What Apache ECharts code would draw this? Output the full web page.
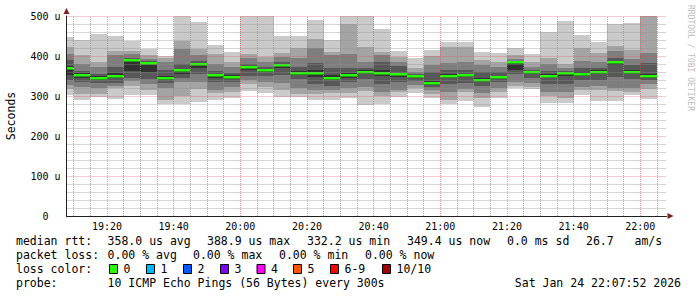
<!DOCTYPE html>
<html>
<head>
<meta charset="utf-8">
<script src="https://cdn.jsdelivr.net/npm/echarts@6/dist/echarts.min.js"></script>
<style>
html,body{margin:0;padding:0;background:#fff;}
#chart{width:697px;height:297px;}
</style>
</head>
<body>
<div id="chart"></div>
<script>
// ---------------- data ----------------
const START = '19:07:52';
const END = '22:07:52';
const STEP_MIN = 5;
const BAR_START = ['19:05','19:10','19:15','19:20','19:25','19:30','19:35','19:40','19:45','19:50','19:55',
  '20:00','20:05','20:10','20:15','20:20','20:25','20:30','20:35','20:40','20:45','20:50','20:55',
  '21:00','21:05','21:10','21:15','21:20','21:25','21:30','21:35','21:40','21:45','21:50','21:55','22:00'];
// sorted ping rtt values (microseconds), ping1 = fastest ... ping10 = slowest
const PING1  = [303,290,298,292,302,302,280,280,286,290,296,312,307,298,298,290,290,296,277,279,298,307,296,279,288,273,294,319,317,282,282,302,287,287,302,292];
const PING2  = [317,304,304,321,325,315,290,300,317,307,309,330,323,315,304,305,307,307,312,300,309,319,305,290,310,294,309,326,323,300,295,315,315,312,309,318];
const PING3  = [328,323,319,325,337,330,321,335,336,315,322,340,335,332,321,315,315,319,323,310,315,327,315,311,318,307,320,335,333,309,310,323,325,320,319,330];
const PING4  = [340,336,333,333,345,342,332,345,355,335,335,350,350,352,342,330,325,335,342,330,335,337,322,330,332,326,335,355,345,330,330,340,340,348,342,340];
const PING5  = [352,346,341,345,363,360,340,355,370,345,343,365,360,370,352,348,340,345,354,350,348,345,328,345,348,334,343,365,354,344,350,350,356,377,354,346];
const PING6  = [376,357,350,358,392,385,350,368,382,356,352,375,368,381,362,365,352,357,364,365,358,352,338,355,356,345,350,387,362,354,360,360,364,387,364,355];
const PING7  = [390,362,355,373,395,387,365,380,388,362,358,380,372,385,372,382,370,370,370,385,375,355,360,365,365,360,360,388,365,362,362,370,370,395,377,382];
const PING8  = [406,381,373,402,405,393,384,417,402,380,373,394,385,398,394,421,402,405,386,402,386,361,377,382,384,377,373,392,372,380,369,387,386,412,392,408];
const PING9  = [422,402,386,412,413,402,394,437,418,405,385,406,397,408,419,442,411,480,423,409,398,370,401,422,423,390,385,402,385,396,380,421,407,425,415,510];
const PING10 = [448,440,455,450,438,417,401,510,486,427,411,510,510,450,450,490,440,510,510,468,412,394,415,436,436,411,407,421,404,461,488,453,434,480,482,510];
const MEDIAN = [370,353,346,351,389,383,346,365,379,352,348,372,365,378,357,358,346,352,361,357,354,349,332,351,352,340,347,384,359,350,357,355,360,384,361,349];
const Y_TICKS = [0,100,200,300,400,500];
const X_TICKS = ['19:20','19:40','20:00','20:20','20:40','21:00','21:20','21:40','22:00'];

const STATS_RTT = ['median rtt:','358.0 us avg','388.9 us max','332.2 us min','349.4 us now','0.0 ms sd','26.7   am/s'];
const STATS_LOSS = ['packet loss:','0.00 % avg','0.00 % max','0.00 % min','0.00 % now'];
const LOSS_LABELS = ['0','1','2','3','4','5','6-9','10/10'];
const PROBE_TEXT = ['probe:','10 ICMP Echo Pings (56 Bytes) every 300s','Sat Jan 24 22:07:52 2026'];

// ---------------- styles / layout ----------------
const LOSS_COLORS = ['#26ff00','#00b8ff','#0059ff','#7e00ff','#ff00ff','#ff5500','#ff0000','#a00000'];
const SMOKE = ['#cacaca','#a4a4a4','#7e7e7e','#585858','#323232'];
const MONO = 'DejaVu Sans Mono';
const GRID_MINOR = 'rgba(143,143,143,0.75)';
const GRID_MAJOR = 'rgba(222,79,79,0.6)';
const ARROW = '#801f1f';
const AXIS = '#1f1f1f';

function toMin(s){ const p = s.split(':').map(Number); return p[0]*60 + p[1] + (p[2]||0)/60; }
function fmtMin(v){ const h = Math.floor(v/60 + 1e-9), m = Math.round(v - h*60); return String(h).padStart(2,'0') + ':' + String(m).padStart(2,'0'); }

const T0 = toMin(START), T1 = toMin(END);
const smokeData = BAR_START.map((t,i) => {
  const s = toMin(t);
  return [s, s+STEP_MIN, PING1[i],PING2[i],PING3[i],PING4[i],PING5[i],PING6[i],PING7[i],PING8[i],PING9[i],PING10[i],MEDIAN[i]];
});

const majorX = X_TICKS.map(toMin);
const minorX = [];
for (let v = Math.ceil(T0/STEP_MIN)*STEP_MIN; v <= T1; v += STEP_MIN) {
  if (!majorX.some(m => Math.abs(m - v) < 1e-6)) minorX.push(v);
}

function renderItem(params, api) {
  const cs = params.coordSys;
  const clipBox = {x: cs.x, y: cs.y, width: cs.width, height: cs.height};
  const x0 = api.value(0), x1 = api.value(1);
  const children = [];
  function addRect(xa, ya, xb, yb, color) {
    const L = Math.round(xa), R = Math.round(xb), T = Math.round(ya), B = Math.round(yb);
    const r = echarts.graphic.clipRectByRect({x: L, y: T, width: R - L, height: B - T}, clipBox);
    if (r) children.push({type: 'rect', shape: r, style: {fill: color}});
  }
  for (let k = 0; k < 5; k++) {
    const lo = api.value(2 + k), hi = api.value(11 - k);
    const a = api.coord([x0, hi]), b = api.coord([x1, lo]);
    addRect(a[0], a[1], b[0], b[1], SMOKE[k]);
  }
  const m0 = api.coord([x0, api.value(12)]), m1 = api.coord([x1, api.value(12)]);
  const L = Math.round(m0[0]), R = Math.round(m1[0]);
  const r = echarts.graphic.clipRectByRect({x: L, y: Math.round(m0[1]) - 1, width: R - L, height: 2.5}, clipBox);
  if (r) children.push({type: 'rect', shape: r, style: {fill: LOSS_COLORS[0]}});
  return {type: 'group', children};
}

// legend graphics
const textStyle = {fontFamily: MONO, fontSize: 11.5, fill: '#000'};
const graphics = [];
function addText(str, x, y, align) {
  graphics.push({type: 'text', x: x, y: y, style: Object.assign({text: str, textAlign: align || 'left', textVerticalAlign: 'middle'}, textStyle)});
}
const rttX = [16, 107.6, 207, 307, 407, 507, 586];
STATS_RTT.forEach((s, i) => addText(s, rttX[i], 241));
const lossX = [16, 107.6, 193, 279, 365];
STATS_LOSS.forEach((s, i) => addText(s, lossX[i], 255));
addText('loss color:', 16, 269);
const boxX = [109, 146, 183, 220, 256.5, 293, 330, 382];
LOSS_LABELS.forEach((s, i) => {
  graphics.push({type: 'rect', shape: {x: boxX[i] + 0.5, y: 264.5, width: 8, height: 9},
    style: {fill: LOSS_COLORS[i], stroke: '#000', lineWidth: 1}});
  addText(s, boxX[i] + 14.5, 269);
});
addText(PROBE_TEXT[0], 16, 283);
addText(PROBE_TEXT[1], 107.6, 283);
addText(PROBE_TEXT[2], 681, 283, 'right');
graphics.push({type: 'text', x: 690, y: 5, rotation: -Math.PI/2,
  style: {text: 'RRDTOOL / TOBI OETIKER', fontFamily: MONO, fontSize: 8, fill: '#bdbdbd', textAlign: 'left', textVerticalAlign: 'middle'}});

const chart = echarts.init(document.getElementById('chart'), null, {renderer: 'svg', width: 697, height: 297});
chart.setOption({
  animation: false,
  backgroundColor: '#ffffff',
  grid: {left: 66.5, top: 16, width: 600, height: 200, containLabel: false, outerBoundsMode: 'none'},
  xAxis: {
    type: 'value', min: T0, max: T1, z: 4,
    axisLine: {show: true, onZero: false, lineStyle: {color: AXIS, width: 1}},
    axisTick: {show: false},
    splitLine: {show: false},
    axisLabel: {customValues: majorX, formatter: v => fmtMin(v), fontFamily: MONO, fontSize: 10, color: '#000', margin: 5}
  },
  yAxis: {
    type: 'value', min: Y_TICKS[0], max: Y_TICKS[Y_TICKS.length-1], interval: 100, z: 4,
    name: 'Seconds', nameLocation: 'middle', nameRotate: 90, nameGap: 50,
    nameTextStyle: {fontFamily: MONO, fontSize: 11.5, color: '#000'},
    axisLine: {show: true, lineStyle: {color: AXIS, width: 1}},
    axisTick: {show: false},
    minorTick: {show: false, splitNumber: 5},
    splitLine: {show: true, lineStyle: {color: GRID_MAJOR, type: [1,1], width: 1}},
    minorSplitLine: {show: true, lineStyle: {color: GRID_MINOR, type: [1,1], width: 1}},
    axisLabel: {formatter: v => v === 0 ? '0  ' : v + ' u', fontFamily: MONO, fontSize: 10, color: '#000', margin: 6, align: 'right'}
  },
  series: [
    {
      type: 'custom', name: 'smoke', renderItem: renderItem, data: smokeData,
      encode: {x: [0, 1], y: [2, 3, 4, 5, 6, 7, 8, 9, 10, 11, 12]}, z: 2, silent: true
    },
    {
      type: 'line', name: 'grid', data: [], silent: true, z: 5,
      markLine: {
        silent: true, symbol: ['none', 'none'], label: {show: false}, animation: false,
        data: minorX.map(v => ({xAxis: v, lineStyle: {color: GRID_MINOR, type: [1,1], width: 1}}))
          .concat(majorX.map(v => ({xAxis: v, lineStyle: {color: GRID_MAJOR, type: [1,1], width: 1}})))
      },
      markPoint: {
        silent: true, label: {show: false}, animation: false,
        data: [
          {coord: [T1, 0], symbol: 'triangle', symbolSize: [6, 6], symbolRotate: -90, symbolOffset: [4, 0], itemStyle: {color: ARROW}},
          {coord: [T0, 500], symbol: 'triangle', symbolSize: [6, 6], symbolRotate: 0, symbolOffset: [0, -5], itemStyle: {color: ARROW}}
        ]
      }
    }
  ],
  graphic: graphics
});
</script>
</body>
</html>
